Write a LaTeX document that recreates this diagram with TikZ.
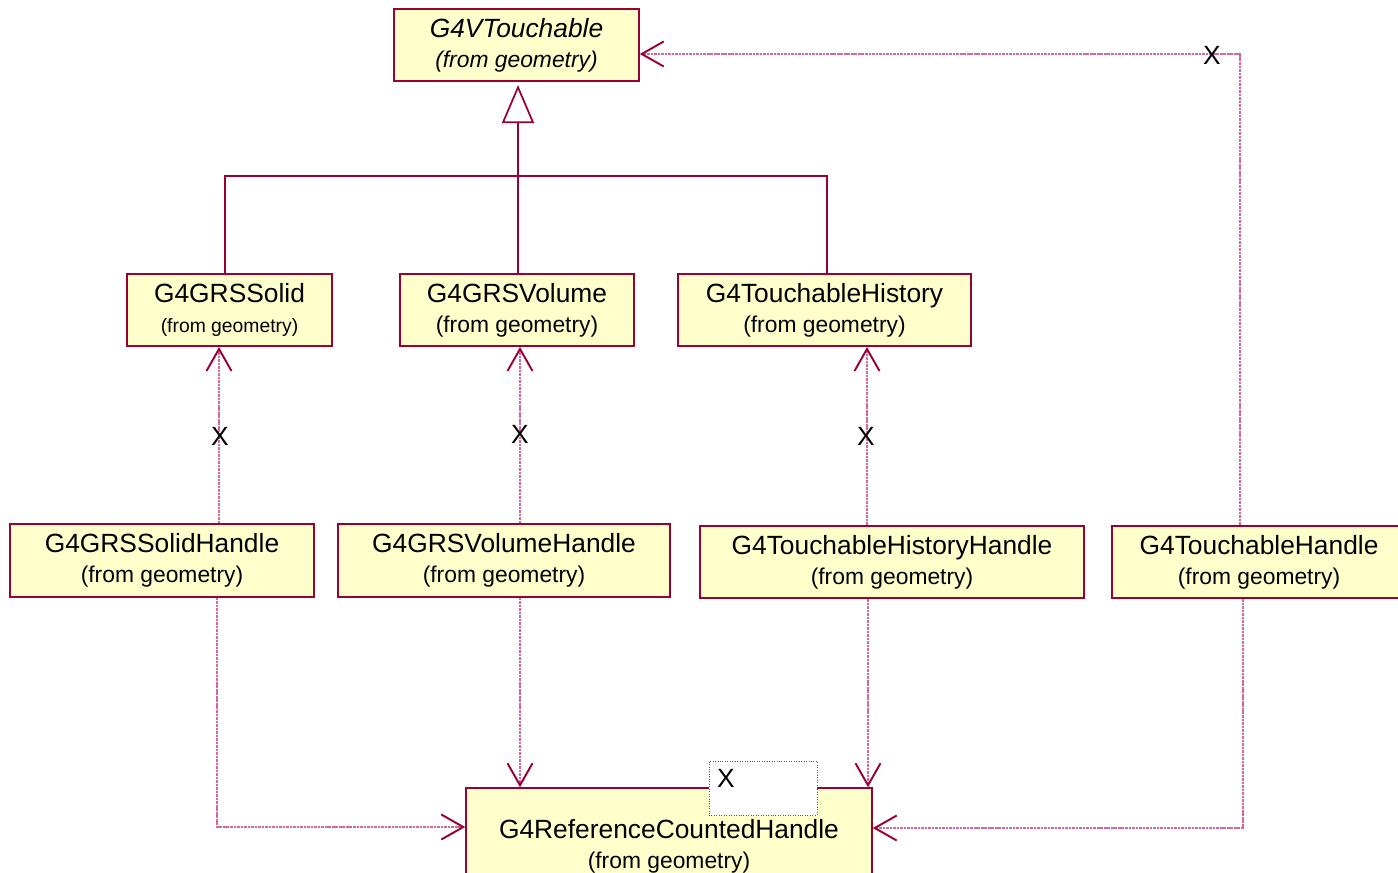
\documentclass[tikz,border=0pt]{standalone}
\usepackage{fontspec}
\setmainfont{Liberation Sans}
\usepackage{tikz}
\usetikzlibrary{
arrows.meta,
positioning,
calc
}
\definecolor{roseline}{RGB}{153,0,51}
\definecolor{rosedash}{RGB}{210,105,155}
\definecolor{rosefill}{RGB}{255,255,204}
\definecolor{parmgray}{RGB}{90,90,90}

\newcommand{\fromgeo}[1][13]{\fontsize{#1}{17}\selectfont(from geometry)}

\begin{document}
\begin{tikzpicture}[
  x=0.02cm, y=-0.02cm,
  >={Straight Barb[length=0.44cm, width=0.5cm, line width=1.1pt, color=roseline]},
  every node/.style={font=\fontsize{15}{17}\selectfont},
  cls/.style={draw=roseline, fill=rosefill, line width=0.9pt,
    align=center, inner sep=0pt, minimum height=1.45cm},
  dep/.style={->, rosedash, line width=0.6pt, dash pattern=on 1.5pt off 0.5pt},
  inh/.style={roseline, line width=1pt}
]
\useasboundingbox (0,0) rectangle (1398,872);

%% ── CLASSES ─────────────────────────────────────────────────
\node[cls, minimum width=4.9cm] (vt) at (516.5, 45)
  {\itshape G4VTouchable\\\itshape\fromgeo};

\node[cls, minimum width=4.1cm] (solid) at (229.5, 310)
  {G4GRSSolid\\\fromgeo[11]};
\node[cls, minimum width=4.68cm] (volume) at (517, 310)
  {G4GRSVolume\\\fromgeo};
\node[cls, minimum width=5.86cm] (hist) at (824.5, 310)
  {G4TouchableHistory\\\fromgeo};

\node[cls, minimum width=6.08cm] (solidh) at (162, 560.5)
  {G4GRSSolidHandle\\\fromgeo};
\node[cls, minimum width=6.64cm] (volumeh) at (504, 560.5)
  {G4GRSVolumeHandle\\\fromgeo};
\node[cls, minimum width=7.68cm] (histh) at (892, 562)
  {G4TouchableHistoryHandle\\\fromgeo};
\node[cls, minimum width=5.88cm] (touchh) at (1259, 562)
  {G4TouchableHandle\\\fromgeo};

\node[cls, minimum width=8.12cm, minimum height=2.32cm] (rch) at (669, 846)
  {G4ReferenceCountedHandle\\\fromgeo};

%% Template parameter
\node[draw=parmgray, fill=white, densely dotted, minimum width=2.16cm,
      minimum height=1.08cm] (param) at (763, 788) {};
\node (xparam) at (726, 778) {X};

%% ── INHERITANCE ─────────────────────────────────────────────
\coordinate (bus) at (518, 176);
\draw[inh] ($(solid.north)+(-4.5,0)$) |- (bus) -| ($(hist.north)+(2.5,0)$);
\draw[inh, -{Triangle[open, length=0.76cm, width=0.64cm, fill=white]},
      shorten >=0.06cm] ($(volume.north)+(1,0)$) -- (vt.south -| bus);

%% ── DEPENDENCIES ────────────────────────────────────────────
\coordinate (d1) at (219, 0);
\coordinate (d2) at (520, 0);
\coordinate (d3) at (867, 0);
\draw[dep] (solidh.north -| d1) -- (solid.south -| d1);
\draw[dep] (volumeh.north -| d2) -- (volume.south -| d2);
\draw[dep] (histh.north -| d3) -- (hist.south -| d3);

\coordinate (up) at (1240, 54);
\draw[dep] (touchh.north -| up) |- (vt.east |- up);

\coordinate (e1) at (217, 827);
\coordinate (e4) at (1243, 828);
\draw[dep] (solidh.south -| e1) |- (rch.west |- e1);
\draw[dep] (volumeh.south -| d2) -- (rch.north -| d2);
\draw[dep] (histh.south -| 868,0) -- (rch.north -| 868,0);
\draw[dep] (touchh.south -| e4) |- (rch.east |- e4);

%% Labels
\node (x1) at (220, 436) {X};
\node (x2) at (520, 434) {X};
\node (x3) at (866, 436) {X};
\node (x4) at (1212, 55) {X};

\end{tikzpicture}
\end{document}
